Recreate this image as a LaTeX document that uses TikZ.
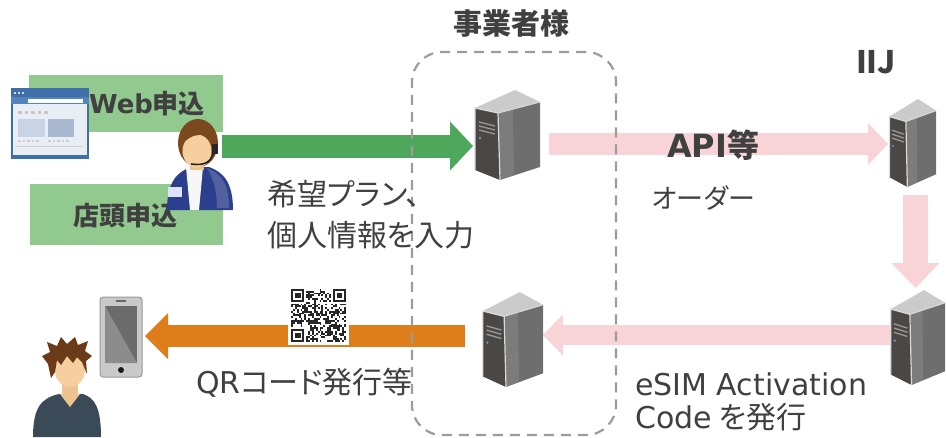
\documentclass[tikz,border=0pt]{standalone}
\usepackage{fontspec}
\setmainfont{Noto Sans CJK JP}[RawFeature=+palt]
\newfontfamily\lat{DejaVu Sans}
\usetikzlibrary{arrows.meta,calc}

\definecolor{txtgray}{HTML}{404040}
\definecolor{boxgreen}{HTML}{92C98E}
\definecolor{arrgreen}{HTML}{4DA85B}
\definecolor{arrpink}{HTML}{F8D3D8}
\definecolor{arrorange}{HTML}{DD7E1A}
\definecolor{dashgray}{HTML}{9C9C9C}
\definecolor{srvfront}{HTML}{4B4744}
\definecolor{srvside}{HTML}{6E6E6E}
\definecolor{srvsidelt}{HTML}{8A8A8A}
\definecolor{srvtop}{HTML}{CBCBCB}
\definecolor{srvedge}{HTML}{DADADA}
\definecolor{srvvent}{HTML}{9A9A9A}
\definecolor{srvled}{HTML}{5A9FD4}
\definecolor{skin}{HTML}{F5CFA0}
\definecolor{hairop}{HTML}{7A4A1E}
\definecolor{hairc}{HTML}{6B3A18}
\definecolor{opjacket}{HTML}{2C3F8C}
\definecolor{cshirt}{HTML}{3A4B57}
\definecolor{brframe}{HTML}{3E6FA8}
\definecolor{brhead}{HTML}{5783BA}
\definecolor{brpage}{HTML}{E9EEF5}
\definecolor{brblockA}{HTML}{C8D4E5}
\definecolor{brblockB}{HTML}{A9B9CF}
\definecolor{phonebody}{HTML}{C9C9C9}
\definecolor{phoneedge}{HTML}{9A9A9A}

\tikzset{
  slot/.style={inner sep=0pt, outer sep=0pt, draw=none},
  lbl/.style={font=\fontsize{30}{36}\selectfont, text=txtgray, inner sep=0pt, anchor=base west},
  blbl/.style={font=\bfseries\fontsize{#1}{#1}\selectfont, text=txtgray, inner sep=0pt},
  fat/.style n args={4}{draw=#1, line width=#2pt,
    -{Triangle[length=#3pt, width=#4pt, line width=0pt]}},
  % tower server, local box 67 x 92
  server/.pic={
    \fill[srvside] (25,25) -- (67,14) -- (67,79) -- (27,92) -- cycle;
    \fill[srvsidelt, opacity=.5] (25,25) -- (40,21) -- (41,87) -- (27,92) -- cycle;
    \fill[srvfront] (2,20) -- (25,25) -- (27,92) -- (2,82) -- cycle;
    \fill[srvtop] (2,20) -- (42,2) -- (67,14) -- (25,25) -- cycle;
    \draw[srvedge, line width=1.2pt] (2,82) -- (2,20) -- (25,25) -- (27,92);
    \draw[srvedge, line width=1pt] (25,25) -- (67,14);
    \foreach \k in {0,1,2}
      \draw[srvvent, line width=1.3pt] (6,{34+4*\k}) -- (22,{38+4*\k});
    \fill[srvled] (7,50) circle (1.3);
  },
  % operator with headset, local box 66 x 90
  operator/.pic={
    \fill[opjacket] (0,90) .. controls (0,62) and (10,52) .. (24,47) -- (42,47)
      .. controls (56,52) and (66,62) .. (66,90) -- cycle;
    \fill[opjacket!70!white, opacity=.6] (40,48) .. controls (56,54) and (62,66) .. (62,88) -- (50,88) .. controls (50,70) and (46,58) .. (40,48) -- cycle;
    \fill[white!94!gray] (19,47) -- (36,47) -- (32,90) -- (23,90) -- cycle;
    \fill[white!88!blue] (1,67) rectangle (15,77);
    \fill[skin!85!brown] (23,36) rectangle (37,50);
    \fill[hairop] (31,23) ellipse (20 and 24);
    \fill[skin] (30,31) ellipse (14.5 and 16.5);
    \fill[hairop] (12,28) .. controls (12,3) and (48,1) .. (51,25)
      .. controls (42,13) and (26,9) .. (12,28) -- cycle;
    \draw[gray!30!black, line width=1.6pt] (47,30) .. controls (45,42) and (38,46) .. (24,44);
    \fill[gray!30!black] (45,24) rectangle (51,34);
  },
  % customer, local box 68 x 97
  customer/.pic={
    \fill[cshirt] (0,97) .. controls (0,68) and (8,58) .. (26,54) -- (50,54)
      .. controls (62,58) and (68,68) .. (68,97) -- cycle;
    \fill[skin!85!brown] (29,40) rectangle (45,56);
    \fill[skin!85!brown] (27,54) -- (47,54) -- (37,67) -- cycle;
    \fill[skin] (37,30) ellipse (15 and 17);
    \fill[hairc] (18,38) -- (15,24) -- (9,16) -- (17,12) -- (14,2) -- (24,6)
      -- (28,-3) -- (34,4) -- (42,-3) -- (45,5) -- (55,1) -- (52,11) -- (59,16)
      -- (53,21) -- (54,34) -- (49,22) -- (44,17) -- (40,23) -- (34,16)
      -- (28,25) -- (24,20) -- (22,32) -- cycle;
  },
  % web browser window, local box 78 x 71
  browser/.pic={
    \fill[brframe] (0,0) rectangle (78,71);
    \fill[brhead] (0,9) rectangle (78,16);
    \foreach \k in {0,1,2} \fill[white] ({4+4*\k},5) circle (1.2);
    \fill[white] (17,10.5) rectangle (72,14.5);
    \fill[brpage] (2,16) rectangle (76,67);
    \fill[gray!15] (73,16) rectangle (76,67);
    \foreach \k in {0,...,4} \fill[gray!45] ({7+6.5*\k},22.5) rectangle +(3.5,3);
    \fill[brblockA] (7,31) rectangle (34,49);
    \fill[brblockB] (37,31) rectangle (63,49);
    \foreach \k in {0,...,4} {
      \fill[gray!40] ({7+4.5*\k},52) rectangle +(2.5,2.2);
      \fill[gray!40] ({37+4.5*\k},52) rectangle +(2.5,2.2);
    }
    \draw[gray!35, line width=.6pt] (4,58) -- (72,58);
  }
}

\begin{document}
\begin{tikzpicture}[x=1pt, y=-1pt]
\useasboundingbox (0,0) rectangle (946,437);

% order channels
\node[slot, fill=boxgreen, minimum width=194pt, minimum height=57pt] (webbox) at (126,103.5) {};
\node[slot, fill=boxgreen, minimum width=193pt, minimum height=61pt] (shopbox) at (126.5,214.5) {};
\node[slot, minimum width=78pt, minimum height=71pt] (browser) at (50,123.5) {};
\pic at (browser.north west) {browser};
\node[blbl=26] (web) at (147,104) {{\lat Web}申込};
\node[blbl=26] (shop) at (125,216) {店頭申込};

% servers
\node[slot, minimum width=67pt, minimum height=92pt] (s1) at (506.5,134) {};
\node[slot, minimum width=62pt, minimum height=97pt] (s2) at (512,338.5) {};
\node[slot, minimum width=48pt, minimum height=90pt] (s3) at (912,142) {};
\node[slot, minimum width=56pt, minimum height=97pt] (s4) at (917,336.5) {};

% people and phone
\node[slot, minimum width=66pt, minimum height=90pt] (opr) at (200,165) {};
\node[slot, minimum width=68pt, minimum height=97pt] (cust) at (67,388.5) {};
\node[slot, fill=phonebody, draw=phoneedge, line width=1pt, rounded corners=3pt,
      minimum width=42pt, minimum height=80pt] (phone) at (121,337) {};

% flow arrows
\coordinate (g0) at (222,146);
\coordinate (p0) at (549,144);
\coordinate (d0) at (915.5,195);
\coordinate (b0) at (890,335);
\coordinate (o0) at (465,336);
\draw[fat={arrgreen}{23}{23}{49}] (g0) -- (s1.west |- g0);
\draw[fat={arrpink}{22}{20}{42}] (p0) -- (s3.west |- p0);
\draw[fat={arrpink}{25}{25}{48}] (d0) -- (d0 |- s4.north);
\draw[fat={arrpink}{20}{20}{41}] (b0) -- (s2.east |- b0);
\draw[fat={arrorange}{22}{23}{46}] (o0) -- ($(phone.east |- o0)+(3,0)$);

\pic at (s1.north west) {server};
\pic[xscale=62/67, yscale=97/92] at (s2.north west) {server};
\pic[xscale=48/67, yscale=90/92] at (s3.north west) {server};
\pic[xscale=56/67, yscale=97/92] at (s4.north west) {server};
\pic at (opr.north west) {operator};
\pic at (cust.north west) {customer};

% phone screen, speaker and button
\fill[black!58] (105,306) rectangle (137,363);
\fill[black!45] (105,306) -- (137,363) -- (105,363) -- cycle;
\fill[black!60] (116,300) rectangle (126,301.6);
\fill[black!90] (121,370) circle (3);

% QR code, 29 x 29 modules
\node[slot, fill=white, minimum width=61pt, minimum height=59pt] (qr) at (318.5,315.5) {};
\pgfmathsetseed{17}
\foreach \i in {0,...,28}{
  \foreach \j in {0,...,28}{
    \pgfmathtruncatemacro{\qskip}{((\i<8)&&(\j<8))||((\i>20)&&(\j<8))||((\i<8)&&(\j>20))}
    \pgfmathrandominteger{\qbit}{0}{1}
    \ifnum\qskip=0 \ifnum\qbit=1
      \fill[black!85] ({291+1.9*\i},{289+1.82*\j}) rectangle +(1.9,1.82);
    \fi\fi
  }
}
\foreach \fx/\fy in {0/0,22/0,0/22}{
  \fill[black!85] ({291+1.9*\fx},{289+1.82*\fy}) rectangle +(13.3,12.74);
  \fill[white] ({292.9+1.9*\fx},{290.82+1.82*\fy}) rectangle +(9.5,9.1);
  \fill[black!85] ({294.8+1.9*\fx},{292.64+1.82*\fy}) rectangle +(5.7,5.46);
}

% operator frame
\node[slot, draw=dashgray, line width=2.2pt, dash pattern=on 10pt off 7pt,
      rounded corners=30pt, minimum width=204pt, minimum height=383pt] (bizframe) at (514,243.5) {};
\node[blbl=29] (biz) at (511,23) {事業者様};
\node[blbl=31] (iij) at (876,62) {IIJ};

% labels
\node[lbl] (req1) at (267,205) {希望プラン、};
\node[lbl] (req2) at (267,246) {個人情報を入力};
\node[lbl, font=\bfseries\fontsize{32}{36}\selectfont] (api) at (667,157) {{\lat API}等};
\node[lbl, font=\fontsize{27}{36}\selectfont] (order) at (652,208) {オーダー};
\node[lbl] (qrlbl) at (196,393) {{\lat QR}コード発行等};
\node[lbl] (esim1) at (635,395) {\lat eSIM Activation};
\node[lbl] (esim2) at (635,428) {{\lat Code} を発行};
\end{tikzpicture}
\end{document}
